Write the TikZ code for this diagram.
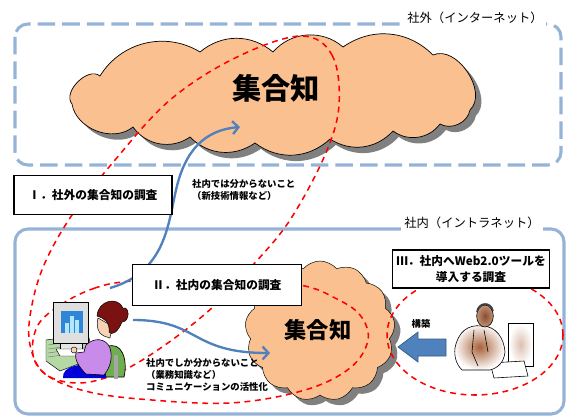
\documentclass[tikz,border=0pt]{standalone}
\usepackage{fontspec}
\setmainfont{Noto Sans CJK JP}
\usetikzlibrary{positioning}
\usetikzlibrary{shapes.symbols}
\usetikzlibrary{shadows}
\usetikzlibrary{arrows.meta}

\definecolor{netblue}{HTML}{95B3D7}
\definecolor{flowblue}{HTML}{4F81BD}
\definecolor{cloudorange}{HTML}{FAC08F}
\definecolor{hair}{HTML}{7A1212}
\definecolor{skin}{HTML}{F6D3B5}
\definecolor{blouse}{HTML}{C98BEA}
\definecolor{chair}{HTML}{6FAE4F}
\definecolor{desk}{HTML}{B5D9A5}
\definecolor{screen}{HTML}{2F86D8}
\definecolor{suit}{HTML}{A8623A}

\begin{document}
\begin{tikzpicture}[x=0.03cm, y=-0.03cm,
	frame/.style={netblue, line width=2.6pt, rounded corners=11pt},
	netlabel/.style={fill=white, inner sep=3pt, font=\fontsize{10.5}{12}\selectfont},
	cloudshadow/.style={drop shadow={fill=gray, opacity=1, shadow xshift=5pt, shadow yshift=-5pt}},
	knowcloud/.style={cloud, draw=black, fill=cloudorange, cloud ignores aspect, cloudshadow},
	survey/.style={red, line width=1.3pt, dash pattern=on 5pt off 4pt},
	flow/.style={flowblue, line width=2pt, -{Straight Barb[length=5pt, width=11pt]}},
	surveybox/.style={draw, fill=white, line width=1pt, align=center,
		font=\bfseries\fontsize{10}{13}\selectfont},
	note/.style={align=left, inner sep=0pt, font=\bfseries\fontsize{8}{10}\selectfont}]

	\useasboundingbox (0,0) rectangle (569,419);

	% the two networks
	\draw[frame, dash pattern=on 15pt off 6pt] (15,24) rectangle (561,165);
	\draw[frame] (15,229) rectangle (564,414);
	\node[netlabel] (webLabel) at (475,18) {社外（インターネット）};
	\node[netlabel] (intraLabel) at (472,223) {社内（イントラネット）};

	% collective knowledge outside: puffs between the notches
	\draw[fill=cloudorange, line width=0.6pt, cloudshadow]
		(100,76) to[bend left=45] (200,52) to[bend left=40] (273,52)
		to[bend left=45] (343,47) to[bend left=40] (433,55)
		to[bend left=80] (470,110) to[bend left=55] (440,124)
		to[bend left=45] (393,131) to[bend left=40] (330,139)
		to[bend left=40] (255,143) to[bend left=40] (190,137)
		to[bend left=45] (133,127) to[bend left=60] (72,104)
		to[bend left=85] (100,76) -- cycle;
	\node[font=\bfseries\fontsize{25}{25}\selectfont] (webCloud) at (276,88) {集合知};

	% collective knowledge inside
	\node[knowcloud, cloud puffs=13, cloud puff arc=100,
		minimum width=4.5cm, minimum height=4.2cm] (intraCloud) at (320,331) {};
	\node[font=\bfseries\fontsize{19}{19}\selectfont] (intraText) at (318,330) {集合知};

	% survey areas
	\draw[survey] plot[smooth cycle, tension=0.6] coordinates {
		(300,36) (332,55) (339,105) (325,155) (290,220) (253,265) (213,307)
		(165,345) (120,372) (80,383) (45,374) (30,345) (31,310) (44,265)
		(72,215) (115,160) (170,100) (235,58)};
	\draw[survey] plot[smooth cycle, tension=0.6] coordinates {
		(132,281) (95,288) (62,304) (38,325) (33,355) (48,376) (85,391)
		(140,399) (230,403) (305,390) (350,368) (368,340) (360,315)
		(335,298) (300,285) (220,276)};
	\draw[survey] (475,335) ellipse [x radius=2.64cm, y radius=1.8cm];

	% what flows from the staff member
	\coordinate (staffUp) at (110,288);
	\coordinate (staffRight) at (133,320);
	\coordinate (webTip) at (240,127);
	\coordinate (intraTip) at (270,353);
	\draw[flow] (staffUp) .. controls (165,272) and (168,225) .. (176,190)
		.. controls (185,150) and (205,130) .. (webTip);
	\draw[flow] (staffRight) .. controls (200,320) and (190,353) .. (intraTip);

	% block arrow from the tools
	\draw[fill=flowblue, draw=flowblue!70!black, line width=0.6pt]
		(398,347) -- (418,332) -- (418,339) -- (446,339) -- (446,356)
		-- (418,356) -- (418,362) -- cycle;
	\node[note] (build) at (421,324) {構築};

	% the three surveys
	\node[surveybox, minimum width=4.74cm, minimum height=1.17cm] (surveyOne) at (93,195) {Ⅰ．社外の集合知の調査};
	\node[surveybox, minimum width=5.07cm, minimum height=1.23cm] (surveyTwo) at (217,285) {Ⅱ．社内の集合知の調査};
	\node[surveybox, minimum width=4.62cm, minimum height=1.14cm] (surveyThree) at (471,269) {Ⅲ．社内へWeb2.0ツールを\\導入する調査};

	\node[note, anchor=west] (webNote) at (192,190) {社内では分からないこと\\（新技術情報など）};
	\node[note, anchor=west] (intraNote) at (146,375) {社内でしか分からないこと\\（業務知識など）\\コミュニケーションの活性化};

	% staff member at her desk
	\fill[desk, draw=black, line width=0.4pt] (46,340) -- (88,334) -- (94,358) -- (60,371) -- (46,361) -- cycle;
	\foreach \k in {0,...,3} {
		\draw[black!60, line width=0.3pt] (48,{345+4*\k}) -- ({88+\k},{339+4*\k});
	}
	\draw[fill=gray!25, line width=0.5pt] (53,302) rectangle (88,343);
	\fill[screen] (61,311) rectangle (83,333);
	\foreach \bx/\bh in {65/10, 70/17, 75/13} {
		\fill[cyan!30] (\bx,333) rectangle ++(3.5,-\bh);
	}
	\draw[fill=gray!20, line width=0.4pt] (60,343) rectangle (82,349);
	\draw[fill=white, line width=0.4pt] (56,349) -- (84,349) -- (88,356) -- (60,356) -- cycle;
	\draw[fill=chair, line width=0.6pt] (106,347) .. controls (122,340) and (128,360) .. (124,377)
		-- (106,377) .. controls (102,365) and (102,352) .. (106,347);
	\fill[gray!70] (114,355) rectangle (118,379);
	\fill[blue!85!black] (63,378) .. controls (62,366) and (80,362) .. (104,366) -- (106,378) -- cycle;
	\draw[fill=blouse, line width=0.5pt] (86,345) .. controls (94,337) and (106,338) .. (110,348)
		.. controls (113,358) and (110,368) .. (104,375) -- (86,374)
		.. controls (80,368) and (74,360) .. (76,353) -- (84,352) -- cycle;
	\draw[fill=skin, line width=0.4pt] (74,350) circle (3);
	\draw[fill=skin, line width=0.4pt] (98,318) .. controls (96,326) and (98,334) .. (104,336)
		-- (110,338) -- (112,326) -- cycle;
	\draw[fill=hair, line width=0.4pt] (97,316) .. controls (98,300) and (118,296) .. (123,308)
		.. controls (130,306) and (130,322) .. (122,322) .. controls (118,332) and (112,336) .. (109,332)
		.. controls (110,322) and (104,318) .. (97,316);

	% developer at his workstation
	\draw[fill=white, line width=0.5pt] (508,323) rectangle (533,366);
	\shade[inner color=suit!40, outer color=white] (509,324) rectangle (532,365);
	\draw[fill=white, line width=0.5pt] (490,363) -- (524,361) -- (528,376) -- (494,378) -- cycle;
	\shade[inner color=suit, outer color=white, draw=black, line width=0.5pt]
		(455,348) .. controls (458,332) and (468,324) .. (482,326)
		.. controls (496,326) and (504,338) .. (505,352)
		.. controls (504,362) and (498,368) .. (490,370) -- (462,370)
		.. controls (456,364) and (454,356) .. (455,348);
	\draw[line width=0.5pt] (484,330) -- (488,352) (474,330) -- (472,352) -- (478,366);
	\shade[inner color=suit!80!black, outer color=suit!70, draw=black, line width=0.5pt]
		(485,316) ellipse [x radius=0.25cm, y radius=0.33cm];
	\draw[black!75, line width=1.4pt] (477,312) .. controls (478,302) and (491,301) .. (493,311);
\end{tikzpicture}
\end{document}
